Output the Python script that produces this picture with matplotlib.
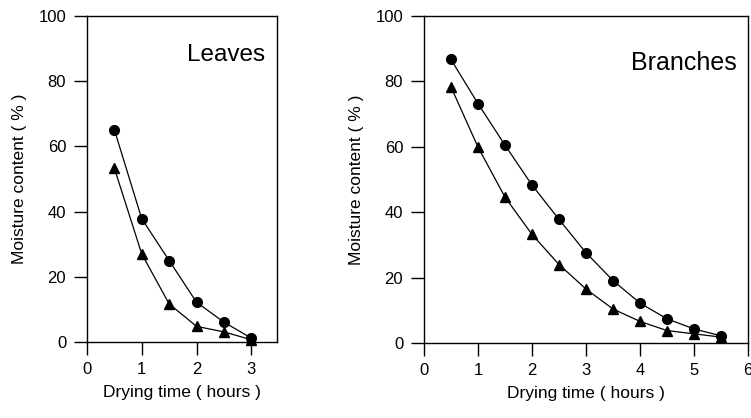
import matplotlib as mpl
mpl.rcParams['font.family'] = ['Liberation Sans', 'DejaVu Sans']
import matplotlib.pyplot as plt

# leaves
leaf_t = [0.5, 1.0, 1.5, 2.0, 2.5, 3.0]
leaf_circ = [65.1, 37.8, 25.0, 12.2, 6.1, 1.2]
leaf_tri = [53.3, 27.0, 11.7, 4.8, 3.1, 0.7]

# branches
br_t = [0.5, 1.0, 1.5, 2.0, 2.5, 3.0, 3.5, 4.0, 4.5, 5.0, 5.5]
br_circ = [86.7, 73.2, 60.5, 48.3, 37.8, 27.6, 19.1, 12.2, 7.4, 4.3, 2.2]
br_tri = [78.3, 59.9, 44.6, 33.2, 24.0, 16.5, 10.4, 6.6, 3.8, 2.8, 1.8]

fig = plt.figure(figsize=(7.51, 4.18), dpi=100)
ax1 = fig.add_axes([87/751, 76/418, 190/751, 326/418])
ax2 = fig.add_axes([424/751, 75/418, 324/751, 327/418])

def style(ax, xmax, xticks):
    ax.set_xlim(0, xmax)
    ax.set_ylim(0, 100)
    ax.set_xticks(xticks)
    ax.set_yticks([0, 20, 40, 60, 80, 100])
    ax.tick_params(direction='out', length=9.5, width=1.0, labelsize=12)
    ax.tick_params(axis='y', pad=5.5)
    ax.tick_params(axis='x', pad=5)
    for s in ax.spines.values():
        s.set_linewidth(1.0)
    ax.set_xlabel('Drying time ( hours )', fontsize=12.5, labelpad=6)
    ax.set_ylabel('Moisture content ( % )', fontsize=12.5, labelpad=8)

ax1.plot(leaf_t, leaf_circ, 'k-', marker='o', ms=7, lw=0.9, clip_on=False)
ax1.plot(leaf_t, leaf_tri, 'k-', marker='^', ms=6.5, lw=0.9, clip_on=False)
style(ax1, 3.47, [0, 1, 2, 3])
ax1.text(3.25, 88, 'Leaves', ha='right', va='center', fontsize=17.5)

ax2.plot(br_t, br_circ, 'k-', marker='o', ms=7, lw=0.9, clip_on=False)
ax2.plot(br_t, br_tri, 'k-', marker='^', ms=6.5, lw=0.9, clip_on=False)
style(ax2, 6, [0, 1, 2, 3, 4, 5, 6])
ax2.text(5.79, 85.6, 'Branches', ha='right', va='center', fontsize=18)

plt.savefig('out.png', dpi=100)
plt.close()
